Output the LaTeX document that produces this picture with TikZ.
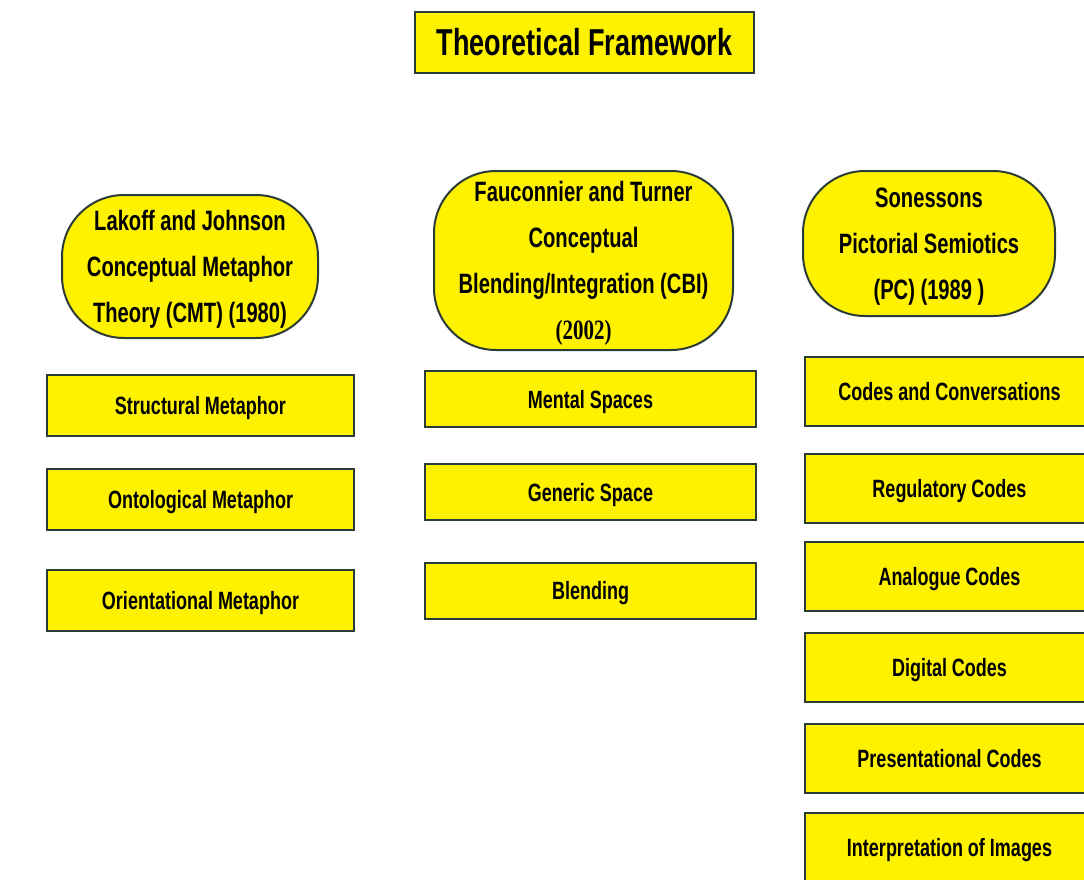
\documentclass[tikz,border=0pt]{standalone}
\usepackage{fontspec}
\setmainfont{Liberation Sans}[FakeStretch=0.72]
\newfontfamily\yearfont{Liberation Serif}[FakeStretch=0.75]
\definecolor{boxline}{HTML}{2B3B36}

\tikzset{
	frame/.style={draw=boxline,fill=yellow,line width=2pt,inner sep=0pt},
	titlebox/.style={frame,minimum width=339pt,minimum height=61pt,font=\bfseries\fontsize{37.5}{40}\selectfont},
	theory/.style={frame,rounded corners=62pt,align=center,text depth=-2pt,font=\bfseries\fontsize{28}{46}\selectfont},
	item/.style={frame,text depth=-1pt,font=\bfseries\fontsize{25}{27}\selectfont},
}

\begin{document}
\begin{tikzpicture}[x=1pt,y=-1pt]
\clip (0,0) rectangle (1084,880);

%title on top
\node[titlebox] (title) at (584.5,42.5) {Theoretical Framework};

%the three theories
\node[theory,minimum width=256pt,minimum height=143pt] (cmt) at (190,266.5)
	{Lakoff and Johnson\\Conceptual Metaphor\\Theory (CMT) (1980)};
\node[theory,minimum width=299pt,minimum height=179pt] (cbi) at (583.5,260.5)
	{Fauconnier and Turner\\Conceptual\\Blending/Integration (CBI)\\{\yearfont\bfseries (2002)}};
\node[theory,minimum width=252pt,minimum height=145pt] (pc) at (929,243.5)
	{Sonessons\\Pictorial Semiotics\\(PC) (1989 )};

%boxes under Lakoff and Johnson
\foreach \y/\txt[count=\i] in {405.5/Structural Metaphor,499/Ontological Metaphor,600/Orientational Metaphor}{
	\node[item,minimum width=307pt,minimum height=61pt] (l\i) at (200.5,\y) {\txt};
}

%boxes under Fauconnier and Turner
\foreach \y/\txt[count=\i] in {399/Mental Spaces,492/Generic Space,590.5/Blending}{
	\node[item,minimum width=331pt,minimum height=56pt] (m\i) at (590.5,\y) {\txt};
}

%boxes under Sonesson
\foreach \y/\txt[count=\i] in {391.5/Codes and Conversations,488.5/Regulatory Codes,576/Analogue Codes,667.5/Digital Codes,758/Presentational Codes,847/Interpretation of Images}{
	\node[item,minimum width=289pt,minimum height=69pt] (r\i) at (949.5,\y) {\txt};
}
\end{tikzpicture}
\end{document}
